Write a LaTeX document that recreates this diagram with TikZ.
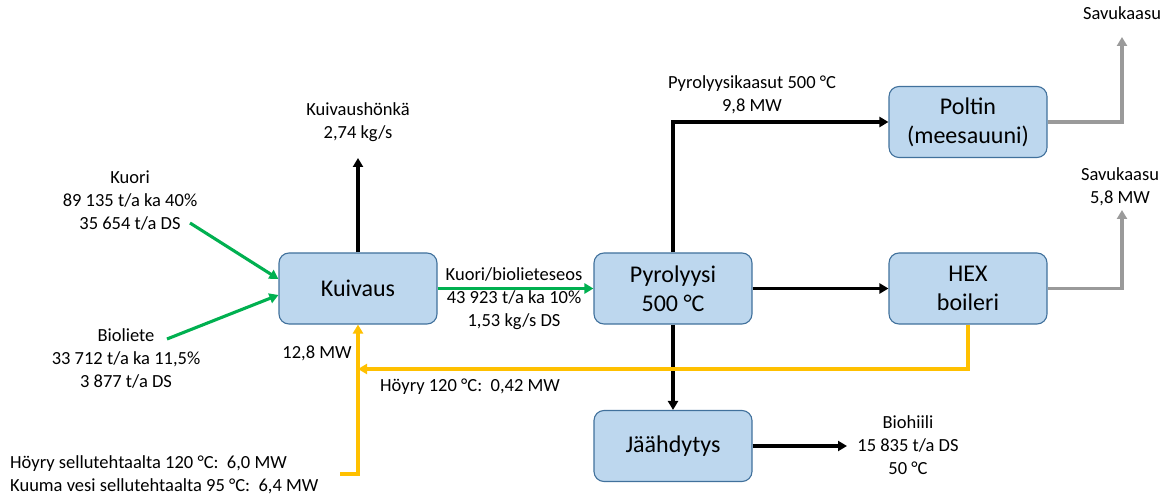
\documentclass[tikz,border=0pt]{standalone}
\usepackage{fontspec}
\setmainfont{Carlito}
\usetikzlibrary{arrows.meta}
\definecolor{boxfill}{HTML}{BDD7EE}
\definecolor{boxline}{HTML}{41719C}
\definecolor{feed}{HTML}{00B050}
\definecolor{heat}{HTML}{FFC000}
\definecolor{flue}{HTML}{9A9A9A}
\begin{document}
\begin{tikzpicture}[x=1pt,y=-1pt,
  unit/.style={draw=boxline, fill=boxfill, line width=1.1pt, rounded corners=10pt,
    minimum width=158pt, minimum height=71pt, align=center, inner sep=0pt,
    font=\fontsize{24}{29}\selectfont},
  lbl/.style={align=center, inner sep=0pt, font=\fontsize{18.5}{23}\selectfont},
  flow/.style={line width=3.1pt, -{Triangle[length=9pt,width=10pt]}},
  blackflow/.style={flow, draw=black},
  feedflow/.style={flow, draw=feed},
  heatflow/.style={flow, draw=heat},
  flueflow/.style={flow, draw=flue}]
\useasboundingbox (0,0) rectangle (1167,494);

% process units
\node[unit] (kuiv) at (358,288.5) {Kuivaus};
\node[unit] (pyro) at (673,288.5) {Pyrolyysi\\500 °C};
\node[unit] (polt) at (968,122) {Poltin\\(meesauuni)};
\node[unit] (hex) at (968,288.5) {HEX\\boileri};
\node[unit] (jaah) at (673,446) {Jäähdytys};

% stream labels
\node[lbl] (kuori) at (130,201) {Kuori\\89 135 t/a ka 40\%\\35 654 t/a DS};
\node[lbl] (bio) at (126,358) {Bioliete\\33 712 t/a ka 11,5\%\\3 877 t/a DS};
\node[lbl] (honka) at (358,122.5) {Kuivaushönkä\\2,74 kg/s};
\node[lbl] (seos) at (514,298.5) {Kuori/biolieteseos\\43 923 t/a ka 10\%\\1,53 kg/s DS};
\node[lbl] (pkaasu) at (752,94.5) {Pyrolyysikaasut 500 °C\\9,8 MW};
\node[lbl] (savu1) at (1122,13) {Savukaasu};
\node[lbl] (savu2) at (1120,187) {Savukaasu\\5,8 MW};
\node[lbl] (hiili) at (908,445) {Biohiili\\15 835 t/a DS\\50 °C};
\node[lbl] (kuivmw) at (317,353) {12,8 MW};
\node[lbl] (hoyry) at (470,387) {Höyry 120 °C:\ \ 0,42 MW};
\node[lbl, align=left, anchor=west] (sellu) at (10,474.5)
  {Höyry sellutehtaalta 120 °C:\ \ 6,0 MW\\Kuuma vesi sellutehtaalta 95 °C:\ \ 6,4 MW};

% free ends of the connectors
\coordinate (kuorisrc) at (190,223);
\coordinate (biosrc) at (167,339);
\coordinate (honkatip) at (358,158);
\coordinate (flue1tip) at (1122,37);
\coordinate (flue2tip) at (1122,210);
\coordinate (steamjoin) at (358,369);
\coordinate (millsrc) at (340,474);
\coordinate (chartip) at (847,446);

% feed streams
\draw[feedflow] (kuorisrc) -- ([yshift=9.5pt]kuiv.west);
\draw[feedflow] (biosrc) -- ([yshift=-6.5pt]kuiv.west);
\draw[feedflow] (kuiv.east) -- (pyro.west);

% drying exhaust and pyrolysis products
\draw[blackflow] (kuiv.north) -- (honkatip);
\draw[blackflow] (pyro.north) |- (polt.west);
\draw[blackflow] (pyro.east) -- (hex.west);
\draw[blackflow] (pyro.south) -- (jaah.north);
\draw[blackflow] (jaah.east) -- (chartip);

% flue gases
\draw[flueflow] (polt.east) -| (flue1tip);
\draw[flueflow] (hex.east) -| (flue2tip);

% heat to the dryer
\draw[heatflow] (hex.south) |- (steamjoin);
\draw[heatflow] (millsrc) -| (kuiv.south);
\end{tikzpicture}
\end{document}
